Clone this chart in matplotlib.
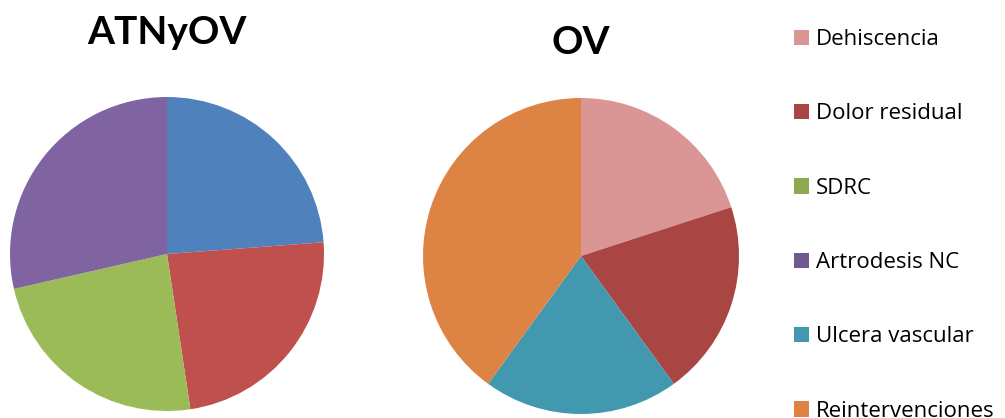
import matplotlib.pyplot as plt
from matplotlib.patches import Patch

plt.rcParams['font.family'] = ['Lato', 'DejaVu Sans']

# left pie (ATNyOV)
left_title = "ATNyOV"
left_values = [5, 5, 5, 6]
left_colors = ["#4F81BD", "#C0504D", "#9BBB59", "#8064A2"]

# right pie (OV)
right_title = "OV"
categories = ["Dehiscencia", "Dolor residual", "SDRC", "Artrodesis NC",
              "Ulcera vascular", "Reintervenciones"]
right_values = [1, 1, 0, 0, 1, 2]
right_colors = ["#D99694", "#A94543", "#8BA94E", "#71588F", "#4198AF", "#DD8444"]

W, H = 1005, 418
fig = plt.figure(figsize=(W / 100, H / 100), dpi=100)

def px_axes(cx, cy, r):
    return fig.add_axes([(cx - r) / W, (H - cy - r) / H, 2 * r / W, 2 * r / H])

ax1 = px_axes(167, 254, 157)
ax1.pie(left_values, colors=left_colors, startangle=90, counterclock=False,
        radius=1, wedgeprops=dict(linewidth=0))
ax1.set_xlim(-1, 1); ax1.set_ylim(-1, 1)
ax1.set_aspect('equal')
ax1.axis('off')

ax2 = px_axes(581, 256, 158)
ax2.pie(right_values, colors=right_colors, startangle=90, counterclock=False,
        radius=1, wedgeprops=dict(linewidth=0))
ax2.set_xlim(-1, 1); ax2.set_ylim(-1, 1)
ax2.set_aspect('equal')
ax2.axis('off')

fig.text(167 / W, 1 - 32 / H, left_title, ha='center', va='center',
         fontsize=28, fontweight='bold')
fig.text(581 / W, 1 - 42 / H, right_title, ha='center', va='center',
         fontsize=28, fontweight='bold')

handles = [Patch(facecolor=c, edgecolor='none') for c in right_colors]
fig.legend(handles, categories, loc='upper left',
           bbox_to_anchor=(794 / W, 1 - 29 / H), frameon=False,
           prop={'family': ['Open Sans', 'DejaVu Sans'], 'size': 16},
           labelspacing=2.4, handlelength=0.68, handleheight=0.68,
           handletextpad=0.3, borderpad=0, borderaxespad=0)

fig.savefig("out.png", dpi=100)
